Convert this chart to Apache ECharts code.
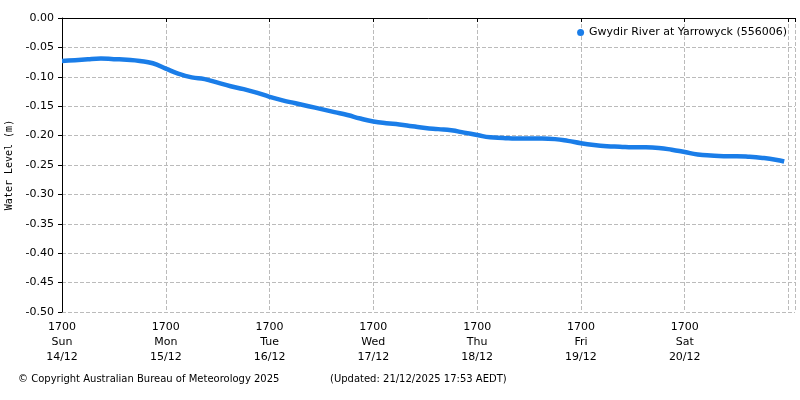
<!DOCTYPE html>
<html><head><meta charset="utf-8">
<script src="https://cdn.jsdelivr.net/npm/echarts@6/dist/echarts.min.js"></script>
<style>body{margin:0}#c{width:800px;height:400px}</style>
</head><body><div id="c"></div>
<script>
// hours since Sun 14/12 17:00, one reading every 3 hours plus the last one
var hours = [];
for (var i = 0; i < 56; i++) hours.push(i * 3);
hours.push(167);
var level = [-0.073,-0.072,-0.070,-0.069,-0.070,-0.071,-0.073,-0.077,-0.086,-0.095,
  -0.101,-0.104,-0.110,-0.116,-0.121,-0.127,-0.134,-0.140,-0.145,-0.150,
  -0.155,-0.160,-0.165,-0.171,-0.176,-0.179,-0.181,-0.184,-0.187,-0.189,
  -0.191,-0.195,-0.199,-0.203,-0.204,-0.205,-0.205,-0.205,-0.206,-0.209,
  -0.213,-0.216,-0.218,-0.219,-0.220,-0.220,-0.221,-0.224,-0.228,-0.232,
  -0.234,-0.235,-0.235,-0.236,-0.238,-0.241,-0.244];
var dayNames = ['Sun','Mon','Tue','Wed','Thu','Fri','Sat'];
var dayDates = ['14/12','15/12','16/12','17/12','18/12','19/12','20/12'];

var chart = echarts.init(document.getElementById('c'));
var font = 'DejaVu Sans';
chart.setOption({
  animation: false,
  textStyle: {fontFamily: font},
  grid: {left: 62, right: 5, top: 18, bottom: 88, containLabel: false, outerBoundsMode: 'none'},
  legend: {
    right: 8, top: 22, icon: 'circle', itemWidth: 7, itemHeight: 7, itemGap: 4,
    textStyle: {fontSize: 11, color: '#000', fontFamily: font},
    data: ['Gwydir River at Yarrowyck (556006)']
  },
  xAxis: {
    type: 'value', min: 0, max: 169.5, interval: 24,
    axisLine: {lineStyle: {color: '#000'}},
    axisTick: {length: 4, lineStyle: {color: '#000'}},
    splitLine: {lineStyle: {type: 'dashed', color: '#bbb'}},
    axisLabel: {
      color: '#000', fontSize: 11, lineHeight: 15,
      formatter: function (v) {
        var d = Math.round(v / 24);
        if (d > 6) return '';
        return '1700\n' + dayNames[d] + '\n' + dayDates[d];
      }
    }
  },
  yAxis: {
    type: 'value', min: -0.5, max: 0, interval: 0.05,
    name: 'Water Level (m)', nameLocation: 'middle', nameGap: 44,
    nameTextStyle: {fontFamily: 'DejaVu Sans Mono', fontSize: 10, color: '#000'},
    axisLine: {show: true, lineStyle: {color: '#000'}},
    axisTick: {show: true, length: 4, lineStyle: {color: '#000'}},
    splitLine: {lineStyle: {type: 'dashed', color: '#bbb'}},
    axisLabel: {color: '#000', fontSize: 11, formatter: function (v) { return v.toFixed(2); }}
  },
  series: [{
    name: 'Gwydir River at Yarrowyck (556006)',
    type: 'line', smooth: true, showSymbol: false,
    itemStyle: {color: '#1a7de8'},
    lineStyle: {color: '#1a7de8', width: 4.5},
    data: hours.map(function (h, i) { return [h, level[i]]; })
  }],
  graphic: [
    {type: 'text', left: 18, top: 374, style: {text: '© Copyright Australian Bureau of Meteorology 2025', font: '10px DejaVu Sans', fill: '#000'}},
    {type: 'text', left: 330, top: 374, style: {text: '(Updated: 21/12/2025 17:53 AEDT)', font: '10px DejaVu Sans', fill: '#000'}}
  ]
});
</script></body></html>
